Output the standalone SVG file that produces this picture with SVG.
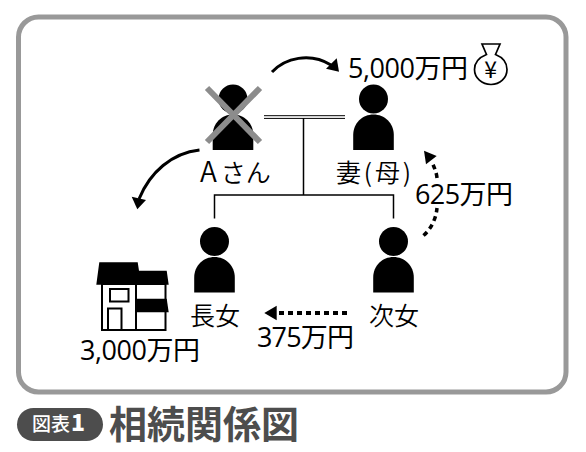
<svg xmlns="http://www.w3.org/2000/svg" width="586" height="452" viewBox="0 0 586 452">
<style>
.t{font-family:"Open Sans","Noto Sans CJK JP",sans-serif;font-size:27px;fill:#000;font-weight:400}
.c{font-family:"Noto Sans CJK JP",sans-serif;font-size:25px;fill:#000;font-weight:350}
.ln{fill:none;stroke:#000;stroke-width:1.5}
.cv{fill:none;stroke:#000;stroke-width:3}
.dt{fill:none;stroke:#000;stroke-width:3.5;stroke-dasharray:5 4}
.hw{fill:none;stroke:#000;stroke-width:2}
</style>
<defs>
<g id="person"><circle cx="0" cy="0" r="14.5"/><path d="M-20.3 51V36C-20.3 24-11 15.500 0 15.500S20.300 24 20.300 36V51Z"/></g>
</defs>
<rect width="586" height="452" fill="#fff"/>
<rect id="frame" x="18.500" y="17" width="547.500" height="375" rx="20" fill="#fff" stroke="#999" stroke-width="5"/>
<g id="connectors">
<path class="ln" d="M264 115.700H345M264 118.400H345" style="stroke-width:1"/>
<path class="ln" d="M303.500 118V195M214.500 218.500V195H393.500V218.500"/>
<path class="cv" d="M272 72C285 58 310 52 331 65"/>
<path d="M339 71.700L326 68.700L336.700 58.300Z"/>
<path class="cv" d="M199.500 150C172 153 150 172 139 199"/>
<path d="M137.300 209.300L131.700 196.700L146 200Z"/>
<path class="dt" d="M423.500 235.500C431 229 436 219 437 208"/>
<path class="dt" d="M437 178C436.500 172 434 167 431.500 161"/>
<path d="M424 150.700L426 164.300L436.700 156Z"/>
<path class="dt" d="M347 313H276" style="stroke-width:4"/>
<path d="M264.300 313L276.700 305.700V320.300Z"/>
</g>
<g id="node-a">
<use href="#person" x="233" y="99"/>
<path d="M207 88L260 142M260 88L207 142" stroke="#8c8c8c" stroke-width="6" fill="none"/>
<text class="c" x="200" y="182"><tspan font-size="28">A</tspan><tspan dx="4">さん</tspan></text>
</g>
<g id="node-wife">
<use href="#person" x="373.500" y="99"/>
<text class="c" x="336" y="182" textLength="75">妻(母)</text>
</g>
<g id="node-eldest">
<use href="#person" x="214.500" y="241.500"/>
<text class="c" x="190" y="325">長女</text>
</g>
<g id="node-second">
<use href="#person" x="393.500" y="241.500"/>
<text class="c" x="369" y="325">次女</text>
</g>
<g id="node-house">
<rect class="hw" x="102" y="284" width="63.500" height="46"/>
<path class="hw" d="M136 284V330"/>
<rect class="hw" x="110" y="289" width="18.500" height="12.500"/>
<path class="hw" d="M108 330V308.500H121.500V330"/>
<path d="M99.300 262.300H137.700L139 270.700H166.700L168.700 284.700H96.300Z"/>
<path d="M136 298.700H166.700L168.700 312.300H136Z"/>
<text class="t" x="80" y="360" textLength="120">3,000万円</text>
</g>
<g id="node-money">
<path d="M482 44H500L495.500 54.500C503 57.500 507 62 507 69.500C507 78 500 84.500 491 84.500C482 84.500 474.500 78 474.500 69.500C474.500 62 479 57.500 486.500 54.500Z" fill="#fff" stroke="#000" stroke-width="1.700"/>
<text x="490.700" y="77.500" text-anchor="middle" font-family="Noto Sans CJK JP,sans-serif" font-size="23" fill="#000">¥</text>
<text class="t" x="348" y="78" textLength="120">5,000万円</text>
</g>
<g id="labels">
<text class="t" x="415" y="204" textLength="98">625万円</text>
<text class="t" x="257" y="347" textLength="97">375万円</text>
</g>
<g id="title">
<rect x="17" y="408" width="86" height="33" rx="16.500" fill="#4d4d4d"/>
<text x="32" y="431" font-family="Noto Sans CJK JP,sans-serif" font-size="19" font-weight="500" fill="#fff">図表<tspan dx="1" font-size="23" font-weight="900">1</tspan></text>
<text x="109" y="438" font-family="Noto Sans CJK JP,sans-serif" font-size="38" font-weight="700" fill="#4d4d4d" textLength="190">相続関係図</text>
</g>
</svg>
